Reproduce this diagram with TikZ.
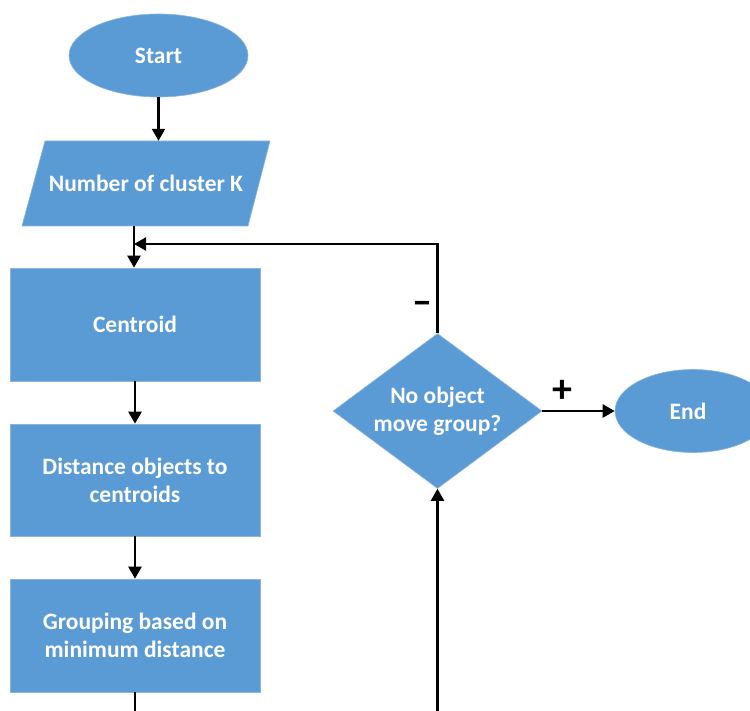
\documentclass[tikz,border=0pt]{standalone}
\usepackage{fontspec}
\setmainfont{Carlito}
\usetikzlibrary{shapes.geometric,arrows.meta}
\definecolor{boxblue}{RGB}{91,155,213}
\definecolor{edgeblue}{RGB}{140,180,222}
\begin{document}
\begin{tikzpicture}[x=1pt,y=-1pt,
  shp/.style={fill=boxblue,draw=edgeblue,line width=0.6pt,text=white,
    font=\bfseries\fontsize{23.5}{28}\selectfont,align=center,inner sep=0pt},
  oval/.style={shp,ellipse},
  box/.style={shp,rectangle,minimum width=250pt},
  iotext/.style={text=white,font=\bfseries\fontsize{23.5}{28}\selectfont,
    inner sep=0pt,minimum width=225pt,minimum height=85pt},
  dec/.style={shp,diamond,shape aspect=1.35,minimum width=209pt,minimum height=155pt},
  conn/.style={line width=2.3pt,-{Triangle[length=12pt,width=13pt]}},
  plain/.style={line width=2.3pt},
  sign/.style={font=\bfseries\fontsize{40}{42}\selectfont,inner sep=0pt}]
\useasboundingbox (0,0) rectangle (750,711);
\clip (0,0) rectangle (750,711);
\node[oval,minimum width=179pt,minimum height=83pt] (start) at (158.5,55.5) {Start};
% parallelogram (input)
\filldraw[fill=boxblue,draw=edgeblue,line width=0.6pt]
  (45,141) -- (270,141) -- (248,226) -- (22,226) -- cycle;
\node[iotext] (input) at (146,183.5) {Number of cluster K};
\node[box,minimum height=113pt] (centroid) at (135,324.5) {Centroid};
\node[box,minimum height=112pt] (dist) at (135,480) {Distance objects to\\centroids};
\node[box,minimum height=113pt] (group) at (135,635.5) {Grouping based on\\minimum distance};
\node[dec] (decide) at (437.5,411) {No object\\move group?};
\node[oval,minimum width=156pt,minimum height=83pt] (end) at (693,411) {};
\node[text=white,font=\bfseries\fontsize{23.5}{28}\selectfont,inner sep=0pt] (endtxt) at (688,411) {End};
\coordinate (join) at (134,244);
\coordinate (b1) at (135,712);
\coordinate (b2) at (437.5,712);
\draw[conn] (start.south) -- (start.south |- input.north);
\draw[conn] (input.south -| join) -- (centroid.north -| join);
\draw[conn] (decide.north) |- (join);
\draw[conn] (centroid.south) -- (dist.north);
\draw[conn] (dist.south) -- (group.north);
\draw[plain] (group.south) -- (b1);
\draw[conn] (b2) -- (decide.south);
\draw[conn] (decide.east) -- (end.west);
\node[sign] (minus) at (422,307.5) {–};
\node[sign] (plus) at (562,391) {+};
\end{tikzpicture}
\end{document}
